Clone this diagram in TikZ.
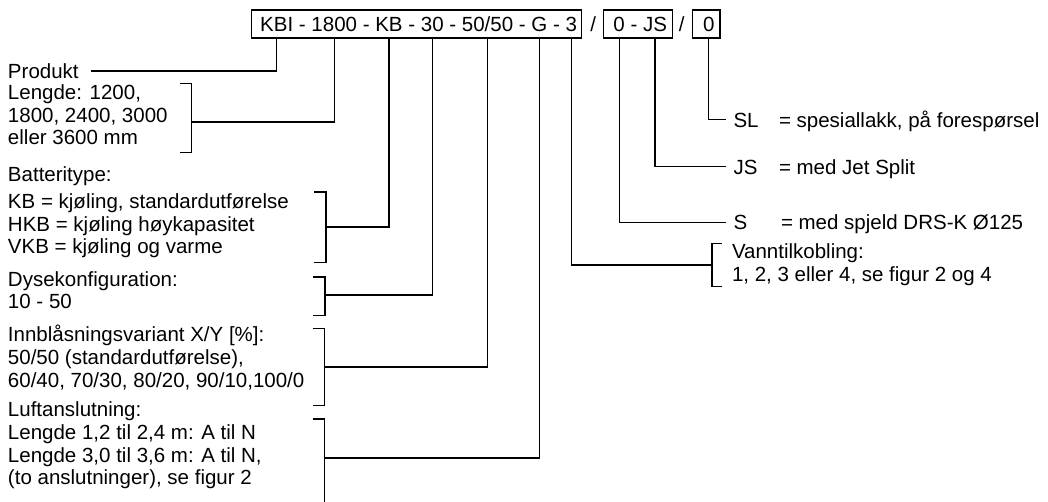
\documentclass[tikz,border=0pt]{standalone}
\usepackage{fontspec}
\setmainfont{Liberation Sans}
\usetikzlibrary{positioning}

\begin{document}
\begin{tikzpicture}[
    x=1pt, y=-1pt,
    line width=1.1pt,
    every node/.style={inner sep=0pt, outer sep=0pt, font=\fontsize{20.5}{22.7}\selectfont},
    code/.style={anchor=base west},
    codebox/.style={draw, anchor=north west, minimum height=28},
    txt/.style={anchor=base west, align=left},
    lbl/.style={anchor=base west, inner xsep=8pt}
]
    \useasboundingbox (0,0) rectangle (1048,501);

    \node[codebox, minimum width=330] (box1) at (251.7,10) {};
    \node[codebox, minimum width=69.4] (box2) at (603.3,10) {};
    \node[codebox, minimum width=27.7] (box3) at (692.3,10) {};

    \node[code] (kbi) at (260.2,31.5) {KBI};
    \node[base right=0pt of kbi] (d1) {\ -\ \null};
    \node[base right=0pt of d1] (len) {1800};
    \node[base right=0pt of len] (d2) {\ -\ \null};
    \node[base right=0pt of d2] (typ) {KB};
    \node[base right=0pt of typ] (d3) {\ -\ \null};
    \node[base right=0pt of d3] (dys) {30};
    \node[base right=0pt of dys] (d4) {\ -\ \null};
    \node[base right=0pt of d4] (var) {50/50};
    \node[base right=0pt of var] (d5) {\ -\ \null};
    \node[base right=0pt of d5] (luft) {G};
    \node[base right=0pt of luft] (d6) {\ -\ \null};
    \node[base right=0pt of d6] (vann) {3};
    \node[anchor=base] (sl1) at (593.3,31.5) {/};
    \node[code] (spj) at (613.4,31.5) {0};
    \node[base right=0pt of spj] (d7) {\ -\ \null};
    \node[base right=0pt of d7] (jsp) {JS};
    \node[anchor=base] (sl2) at (681.7,31.5) {/};
    \node[code] (lak) at (703,31.5) {0};

    \node[txt] (prod) at (8,78.3) {Produkt};
    \node[txt] (lenT) at (8,144.9) {Lengde: 1200,\\1800, 2400, 3000\\eller 3600 mm};
    \node[txt] (batH) at (8,181) {Batteritype:};
    \node[txt] (batT) at (8,253.7) {KB = kjøling, standardutførelse\\HKB = kjøling høykapasitet\\VKB = kjøling og varme};
    \node[txt] (dysT) at (8,308.7) {Dysekonfiguration:\\10 - 50};
    \node[txt] (innT) at (8,387.1) {Innblåsningsvariant X/Y [\%]:\\50/50 (standardutførelse),\\60/40, 70/30, 80/20, 90/10,100/0};
    \node[txt] (luftT) at (8,484.8) {Luftanslutning:\\Lengde 1,2 til 2,4 m: A til N\\Lengde 3,0 til 3,6 m: A til N,\\(to anslutninger), se figur 2};
    \node[txt] (vannT) at (732,281) {Vanntilkobling:\\1, 2, 3 eller 4, se figur 2 og 4};

    \node[lbl] (slC) at (725.5,127) {SL};
    \node[code] (slD) at (779,127) {= spesiallakk, på forespørsel};
    \node[lbl] (jsC) at (725.5,174) {JS};
    \node[code] (jsD) at (779,174) {= med Jet Split};
    \node[lbl] (sC) at (725.5,229.5) {S};
    \node[code] (sD) at (781,229.5) {= med spjeld DRS-K Ø125};

    \coordinate (lenB) at (191.5,122);
    \coordinate (batB) at (326,227);
    \coordinate (dysB) at (325,295);
    \coordinate (innB) at (324.5,367);
    \coordinate (luftB) at (324.5,458);
    \coordinate (vannB) at (712,265);

    \draw (180,83.3) -| (191.5,152.5) -- (180,152.5);
    \draw (314,192) -| (326,262.5) -- (314,262.5);
    \draw (313,277) -| (325,315.5) -- (313,315.5);
    \draw (312.5,328.5) -| (324.5,405.5) -- (312.5,405.5);
    \draw (312.5,419) -| (324.5,503);
    \draw (721.7,243.3) -| (712,286.7) -- (721.7,286.7);

    \draw (kbi |- box1.south) |- ([xshift=12pt]prod.east);
    \draw (len |- box1.south) |- (lenB);
    \draw (typ |- box1.south) |- (batB);
    \draw (dys |- box1.south) |- (dysB);
    \draw (var |- box1.south) |- (innB);
    \draw (luft |- box1.south) |- (luftB);
    \draw (vann |- box1.south) |- (vannB);
    \draw (spj |- box2.south) |- (sC.west);
    \draw (jsp |- box2.south) |- (jsC.west);
    \draw (lak |- box3.south) |- (slC.west);
\end{tikzpicture}
\end{document}
